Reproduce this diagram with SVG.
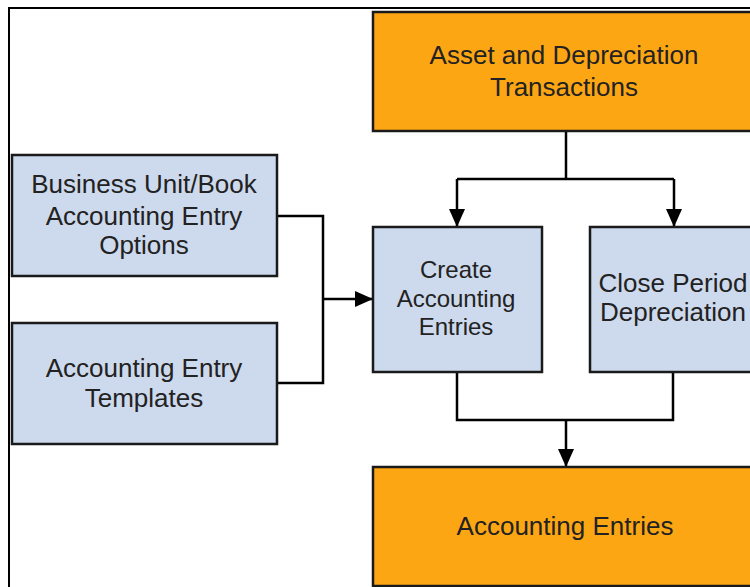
<svg xmlns="http://www.w3.org/2000/svg" width="750" height="587" viewBox="0 0 750 587">
<style>
.orange{fill:#fda614;stroke:#1a1a1a;stroke-width:2.5}
.blue{fill:#cdd9ec;stroke:#1a1a1a;stroke-width:2.5}
text{font-family:"Liberation Sans",Arial,sans-serif;fill:#222;text-anchor:middle}
.t26{font-size:26px}
.t24{font-size:24px}
.conn{fill:none;stroke:#000;stroke-width:2.5}
</style>
<defs>
<marker id="arr" viewBox="0 0 18 16" refX="18" refY="8" markerWidth="18" markerHeight="16" markerUnits="userSpaceOnUse" orient="auto">
<path d="M0,0 L18,8 L0,16 z" fill="#000"/>
</marker>
</defs>
<rect width="750" height="587" fill="#fff"/>
<path d="M9,587 V8 H750" fill="none" stroke="#000" stroke-width="2"/>
<g id="connectors">
<path class="conn" d="M566,131 V179"/>
<path class="conn" d="M457,179 H674"/>
<path class="conn" d="M457,179 V227" marker-end="url(#arr)"/>
<path class="conn" d="M674,179 V227" marker-end="url(#arr)"/>
<path class="conn" d="M277,216 H323 V383 H277"/>
<path class="conn" d="M323,299 H373" marker-end="url(#arr)"/>
<path class="conn" d="M457,372 V420 H673 V372"/>
<path class="conn" d="M566,420 V467" marker-end="url(#arr)"/>
</g>
<g id="asset">
<rect class="orange" x="373" y="12" width="390" height="119"/>
<text class="t26" x="564" y="64">Asset and Depreciation</text>
<text class="t26" x="564" y="96">Transactions</text>
</g>
<g id="business">
<rect class="blue" x="12" y="155" width="265" height="121"/>
<text class="t26" x="144" y="193">Business Unit/Book</text>
<text class="t26" x="144" y="225">Accounting Entry</text>
<text class="t26" x="144" y="254">Options</text>
</g>
<g id="templates">
<rect class="blue" x="12" y="323" width="265" height="121"/>
<text class="t26" x="144" y="377">Accounting Entry</text>
<text class="t26" x="144" y="407">Templates</text>
</g>
<g id="create">
<rect class="blue" x="373" y="227" width="169" height="145"/>
<text class="t24" x="456" y="278">Create</text>
<text class="t24" x="456" y="307">Accounting</text>
<text class="t24" x="456" y="335">Entries</text>
</g>
<g id="close">
<rect class="blue" x="590" y="227" width="180" height="145"/>
<text class="t26" x="673" y="292">Close Period</text>
<text class="t26" x="673" y="321">Depreciation</text>
</g>
<g id="entries">
<rect class="orange" x="373" y="467" width="390" height="119"/>
<text class="t26" x="565" y="535">Accounting Entries</text>
</g>
</svg>
